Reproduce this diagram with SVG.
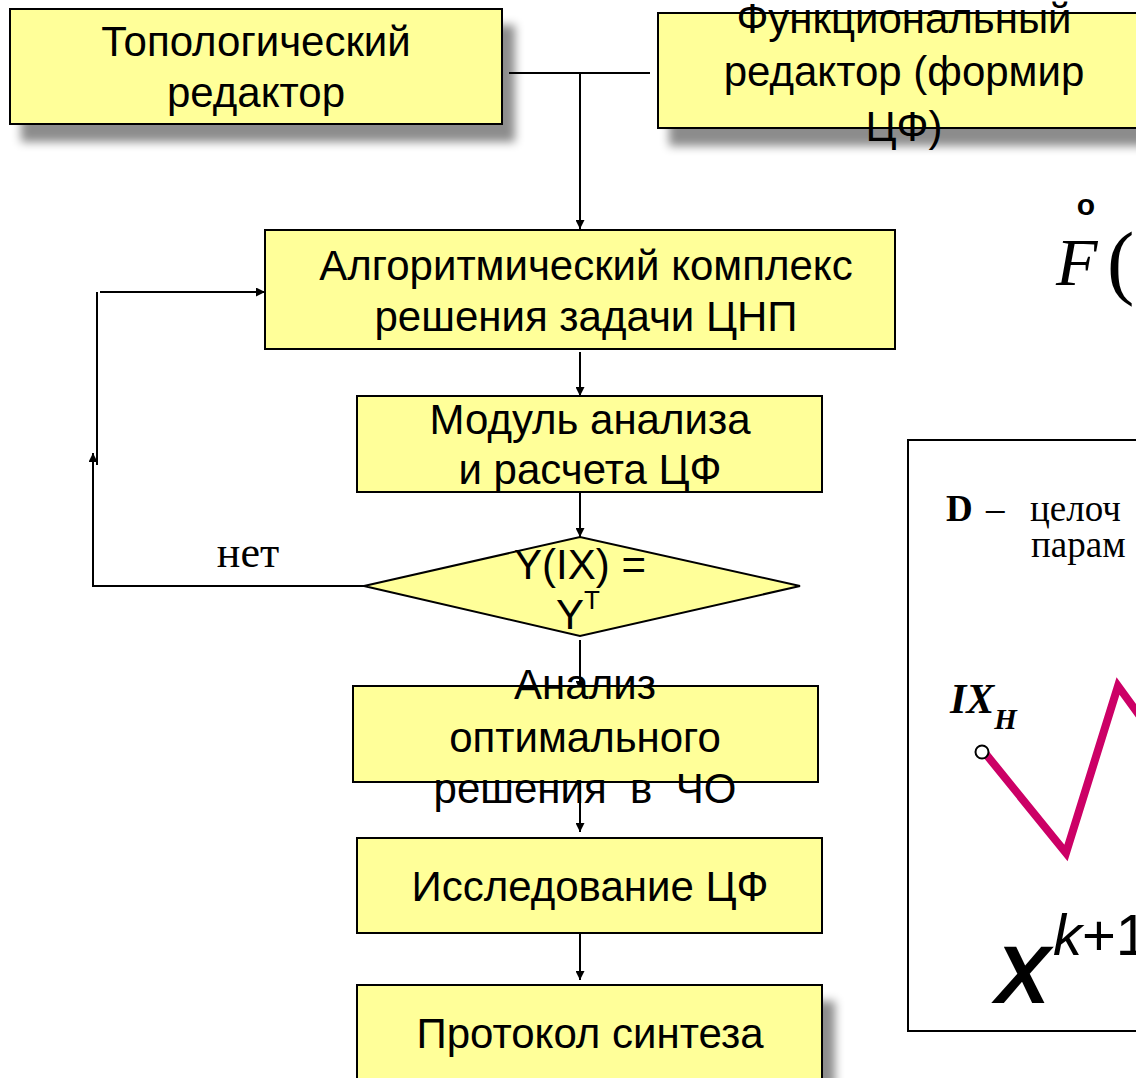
<svg xmlns="http://www.w3.org/2000/svg" width="1136" height="1078" viewBox="0 0 1136 1078">
<defs>
<filter id="sh" x="-20%" y="-20%" width="150%" height="170%">
<feGaussianBlur in="SourceAlpha" stdDeviation="5"/>
<feOffset dx="12" dy="17" result="b"/>
<feFlood flood-color="#000" flood-opacity="0.45"/>
<feComposite in2="b" operator="in"/>
<feMerge><feMergeNode/><feMergeNode in="SourceGraphic"/></feMerge>
</filter>
<marker id="ah" viewBox="0 0 10 10" refX="10" refY="5" markerWidth="12" markerHeight="9" markerUnits="userSpaceOnUse" orient="auto">
<path d="M0,0 L10,5 L0,10 z" fill="#000"/>
</marker>
</defs>
<style>
.box{fill:#FFFF99;stroke:#000;stroke-width:2}
.t{font-family:"Liberation Sans",Arial,sans-serif;font-size:42px;fill:#000;text-anchor:middle}
.c{fill:none;stroke:#000;stroke-width:2}
.ca{fill:none;stroke:#000;stroke-width:2;marker-end:url(#ah)}
.serif{font-family:"Liberation Serif","Times New Roman",serif;fill:#000}
</style>
<rect width="1136" height="1078" fill="#fff"/>

<g id="connectors">
<path class="c" d="M509,73 H650"/>
<path class="ca" d="M580,73 V229"/>
<path class="ca" d="M580,352 V396"/>
<path class="ca" d="M580,493 V537"/>
<path class="ca" d="M580,640 V690"/>
<path class="ca" d="M580,783 V832"/>
<path class="ca" d="M580,934 V980"/>
<path class="c" d="M364,586 H93 V470"/>
<path class="ca" d="M93,470 V453"/>
<path class="c" d="M97,465 V292"/>
<path class="ca" d="M100,292 H265"/>
</g>

<g id="n1">
<rect class="box" x="10" y="9" width="492" height="115" filter="url(#sh)"/>
<text class="t" x="256" y="56">Топологический</text>
<text class="t" x="256" y="107">редактор</text>
</g>

<g id="n2">
<rect class="box" x="658" y="13" width="490" height="115" filter="url(#sh)"/>
<text class="t" x="904" y="33">Функциональный</text>
<text class="t" x="904" y="86">редактор (формир</text>
<text class="t" x="904" y="141">ЦФ)</text>
</g>

<g id="n3">
<rect class="box" x="265" y="230" width="630" height="119"/>
<text class="t" x="586" y="280">Алгоритмический комплекс</text>
<text class="t" x="586" y="331">решения задачи ЦНП</text>
</g>

<g id="n4">
<rect class="box" x="357" y="396" width="465" height="96"/>
<text class="t" x="590" y="434">Модуль анализа</text>
<text class="t" x="590" y="484">и расчета ЦФ</text>
</g>

<g id="n5">
<polygon class="box" points="364,586 580,537 800,586 580,636"/>
<text class="t" x="580" y="579">Y(IX) =</text>
<text class="t" x="578" y="629">Y<tspan font-size="26" dy="-20">T</tspan></text>
</g>

<g id="n6">
<rect class="box" x="353" y="686" width="465" height="96"/>
<text class="t" x="585" y="699">Анализ</text>
<text class="t" x="585" y="752">оптимального</text>
<text class="t" x="585" y="803" xml:space="preserve">решения  в  ЧО</text>
</g>

<g id="n7">
<rect class="box" x="357" y="838" width="465" height="95"/>
<text class="t" x="590" y="901">Исследование ЦФ</text>
</g>

<g id="n8">
<rect class="box" x="357" y="985" width="465" height="120" filter="url(#sh)"/>
<text class="t" x="590" y="1048">Протокол синтеза</text>
</g>

<g id="label-net">
<text class="serif" x="248" y="567" font-size="44" text-anchor="middle">нет</text>
</g>

<g id="formula">
<text x="1086" y="215" font-family="Liberation Sans,Arial,sans-serif" font-weight="bold" font-size="30" text-anchor="middle">o</text>
<text class="serif" x="1056" y="285" font-size="68" font-style="italic">F</text>
<text class="serif" x="1107" y="289" font-size="82">(</text>
</g>

<g id="panel">
<rect x="908" y="440" width="260" height="591" fill="#fff" stroke="#000" stroke-width="2"/>
<text class="serif" font-size="37" y="521"><tspan x="946" font-weight="bold">D</tspan><tspan x="986">–</tspan><tspan x="1030">целоч</tspan></text>
<text class="serif" x="1031" y="557" font-size="37">парам</text>
<text class="serif" x="950" y="713" font-size="42" font-weight="bold" font-style="italic">IX<tspan font-size="29" dy="16">H</tspan></text>
<polyline points="985,753 1066,853 1118,686 1150,730" fill="none" stroke="#CC0066" stroke-width="8"/>
<circle cx="982" cy="752" r="6.5" fill="#fff" stroke="#000" stroke-width="2"/>
<text x="995" y="1003" font-family="Liberation Sans,Arial,sans-serif" font-style="italic" font-weight="bold" font-size="82">X</text>
<text x="1053" y="955" font-family="Liberation Sans,Arial,sans-serif" font-size="58"><tspan font-style="italic">k</tspan>+1</text>
</g>
</svg>
